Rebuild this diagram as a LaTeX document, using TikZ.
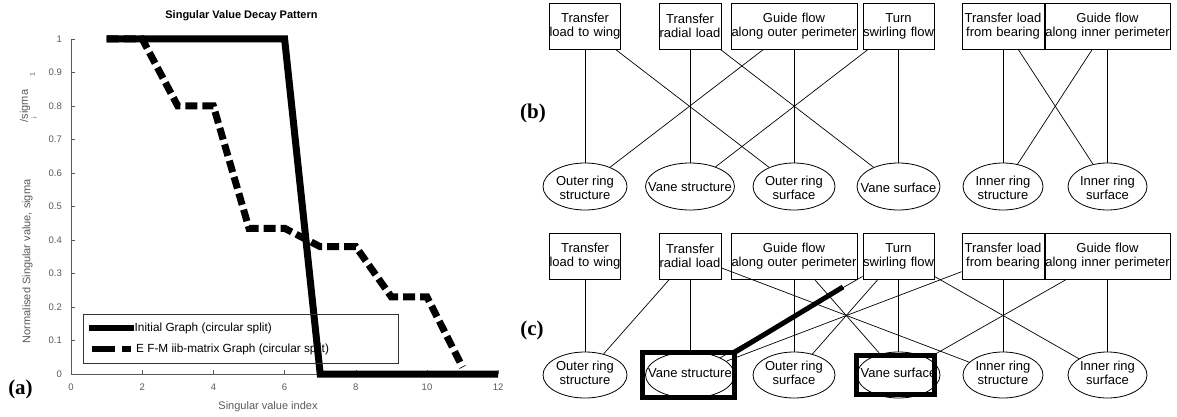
\documentclass[tikz,border=0pt]{standalone}
\usepackage{fontspec}
\setmainfont{Liberation Serif}
\newfontfamily\arial{Liberation Sans}
\usetikzlibrary{shapes.geometric}
\definecolor{axgray}{gray}{0.35}
\begin{document}
\begin{tikzpicture}[x=1pt,y=-1pt,
  box/.style={draw, rectangle, inner sep=0pt, minimum height=46pt, align=center, font=\arial\fontsize{13}{14}\selectfont, line width=0.8pt},
  ell/.style={draw, ellipse, inner sep=0pt, line width=0.8pt},
  etxt/.style={inner sep=0pt, align=center, font=\arial\fontsize{13}{14}\selectfont},
  conn/.style={line width=0.7pt},
  hl/.style={draw, rectangle, line width=5pt, inner sep=0pt, outer sep=0pt},
  panel/.style={inner sep=0pt, font=\bfseries\fontsize{21}{24}\selectfont},
  tick/.style={font=\arial\fontsize{9.5}{10}\selectfont, text=axgray, inner sep=0pt},
  axlab/.style={font=\arial\fontsize{11}{12}\selectfont, text=axgray, inner sep=0pt},
  sublab/.style={font=\arial\fontsize{7}{8}\selectfont, text=axgray, inner sep=0pt},
  legtxt/.style={font=\arial\fontsize{11.8}{13}\selectfont, inner sep=0pt, anchor=west},
  curve/.style={line width=7pt, line join=miter}
]
\useasboundingbox (0,0) rectangle (1177,417);

% ---------------- panel (a) ----------------
\node[font=\arial\bfseries\fontsize{11}{12}\selectfont, inner sep=0pt] (title) at (241.5,16) {Singular Value Decay Pattern};
\begin{scope}[shift={(71pt,-374pt)}, x=35.6pt, y=335pt]
  \draw[axgray, line width=0.6pt] (0,1) -- (0,0) -- (12,0);
  \foreach \v/\l/\n in {0/0/0,0.1/0.1/1,0.2/0.2/2,0.3/0.3/3,0.4/0.4/4,0.5/0.5/5,0.6/0.6/6,0.7/0.7/7,0.8/0.8/8,0.9/0.9/9,1/1/10} {
    \draw[axgray, line width=0.6pt] (0,\v) -- ++(4pt,0);
    \node[tick, anchor=east] (yl\n) at ([xshift=-9pt]0,\v) {\l};
  }
  \foreach \i in {0,2,4,6,8,10,12} {
    \draw[axgray, line width=0.6pt] (\i,0) -- ++(0,4pt);
    \node[tick] (xl\i) at ([yshift=-13pt]\i,0) {\i};
  }
  \draw[curve] (1,1) -- (6,1) -- (7,0) -- (12,0);
  \draw[curve, dash pattern=on 12pt off 5pt] (1,1) -- (2,1) -- (3,0.8) -- (4,0.8) -- (5,0.435) -- (6,0.435) -- (7,0.38) -- (8,0.38) -- (9,0.23) -- (10,0.23) -- (11,0.02);
\end{scope}
\draw[black!80, line width=0.6pt] (83,314) rectangle (398,363);
\draw[line width=6pt] (89,328) -- (134,328);
\draw[line width=6pt] (92,349) -- (115,349);
\draw[line width=6pt] (122,349) -- (131,349);
\node[legtxt] (lg1) at (134.5,328) {Initial Graph (circular split)};
\node[legtxt] (lg2) at (136,349) {E F-M iib-matrix Graph (circular split)};
\node[axlab] (xlab) at (268,407) {Singular value index};
\node[axlab, rotate=90] (ylab) at (27.5,261.5) {Normalised Singular value, sigma};
\node[axlab, rotate=90] (ylab2) at (25,106) {/sigma};
\node[sublab, rotate=90] (ysubi) at (34,118) {i};
\node[sublab, rotate=90] (ysubo) at (32.5,75) {1};
\node[panel] (pa) at (20.5,389) {(a)};

% ---------------- panel (b) ----------------
\node[panel] (pb) at (533,113) {(b)};
\node[box, text width=71pt] (b1) at (585,26) {Transfer\\load to wing};
\node[box, text width=62pt] (b2) at (690,26) {Transfer\\radial load};
\node[box, text width=126pt] (b3) at (794,26) {Guide flow\\along outer perimeter};
\node[box, text width=71pt] (b4) at (898.5,26) {Turn\\swirling flow};
\node[box, text width=82pt] (b5) at (1003,26) {Transfer load\\from bearing};
\node[box, text width=125pt] (b6) at (1107.5,26) {Guide flow\\along inner perimeter};

\node[ell, minimum width=84pt, minimum height=47pt] (e1) at (585,186.5) {};
\node[ell, minimum width=89pt, minimum height=47pt] (e2) at (690,186.5) {};
\node[ell, minimum width=82pt, minimum height=47pt] (e3) at (794,186.5) {};
\node[ell, minimum width=83pt, minimum height=47pt] (e4) at (898.5,186.5) {};
\node[ell, minimum width=80pt, minimum height=47pt] (e5) at (1003,186.5) {};
\node[ell, minimum width=79pt, minimum height=47pt] (e6) at (1107.5,186.5) {};
\node[etxt] (e1t) at ([yshift=-1pt]e1) {Outer ring\\structure};
\node[etxt] (e2t) at ([yshift=-1pt]e2) {Vane structure};
\node[etxt] (e3t) at ([yshift=-1pt]e3) {Outer ring\\surface};
\node[etxt] (e4t) at ([yshift=-1pt]e4) {Vane surface};
\node[etxt] (e5t) at ([yshift=-1pt]e5) {Inner ring\\structure};
\node[etxt] (e6t) at ([yshift=-1pt]e6) {Inner ring\\surface};

\foreach \a/\b in {b1/e1,b1/e3,b2/e2,b2/e4,b3/e1,b3/e3,b4/e2,b4/e4,b5/e5,b5/e6,b6/e5,b6/e6}
  \draw[conn] (\a) -- (\b);

% ---------------- panel (c) ----------------
\node[panel] (pc) at (532,330) {(c)};
\node[box, text width=71pt] (c1) at (585,256) {Transfer\\load to wing};
\node[box, text width=62pt] (c2) at (690,256) {Transfer\\radial load};
\node[box, text width=126pt] (c3) at (794,256) {Guide flow\\along outer perimeter};
\node[box, text width=71pt] (c4) at (898.5,256) {Turn\\swirling flow};
\node[box, text width=82pt] (c5) at (1003,256) {Transfer load\\from bearing};
\node[box, text width=125pt] (c6) at (1107.5,256) {Guide flow\\along inner perimeter};

\node[ell, minimum width=84pt, minimum height=46pt] (f1) at (585,375) {};
\node[ell, minimum width=89pt, minimum height=46pt] (f2) at (690,375) {};
\node[ell, minimum width=82pt, minimum height=46pt] (f3) at (794,375) {};
\node[ell, minimum width=83pt, minimum height=46pt] (f4) at (898.5,375) {};
\node[ell, minimum width=80pt, minimum height=46pt] (f5) at (1003,375) {};
\node[ell, minimum width=79pt, minimum height=46pt] (f6) at (1107.5,375) {};
\node[etxt] (f1t) at ([yshift=2pt]f1) {Outer ring\\structure};
\node[etxt] (f2t) at ([yshift=2pt]f2) {Vane structure};
\node[etxt] (f3t) at ([yshift=2pt]f3) {Outer ring\\surface};
\node[etxt] (f4t) at ([yshift=2pt]f4) {Vane surface};
\node[etxt] (f5t) at ([yshift=2pt]f5) {Inner ring\\structure};
\node[etxt] (f6t) at ([yshift=2pt]f6) {Inner ring\\surface};

\foreach \a/\b in {c1/f1,c2/f1,c2/f2,c2/f5,c3/f3,c3/f4,c4/f2,c4/f3,c4/f4,c4/f6,c5/f2,c5/f5,c6/f4,c6/f6}
  \draw[conn] (\a) -- (\b);

\node[hl, minimum width=92pt, minimum height=45pt] (h1) at (688.5,375) {};
\node[hl, minimum width=78pt, minimum height=39pt] (h2) at (895.5,375) {};
\coordinate (tend) at (843,287);
\draw[line width=5pt] (h1.north east) -- (tend);
\end{tikzpicture}
\end{document}
